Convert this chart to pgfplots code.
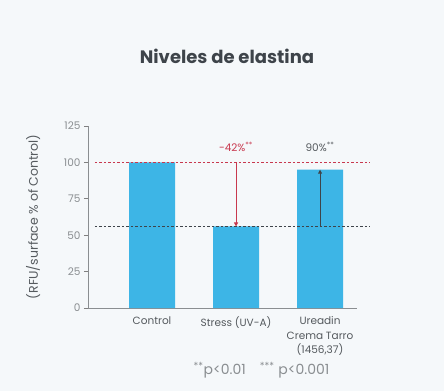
\documentclass[border=0pt]{standalone}
\usepackage{pgfplots}
\pgfplotsset{compat=1.18}
\usepackage{fontspec}
\setmainfont{Poppins}
\usetikzlibrary{arrows.meta}
\definecolor{bg}{HTML}{F5F8FA}
\definecolor{barblue}{HTML}{3DB5E6}
\definecolor{redl}{HTML}{C8384E}
\definecolor{darkl}{HTML}{3E444A}
\definecolor{txt}{HTML}{555A5E}
\definecolor{tick}{HTML}{8A8E91}
\begin{document}
\begin{tikzpicture}[x=1pt,y=1pt]
\fill[bg] (0,0) rectangle (444,391);
\useasboundingbox (0,0) rectangle (444,391);
\node[font=\fontsize{18}{21}\selectfont\bfseries, text=darkl] at (227,335) {Niveles de elastina};
\node[font=\fontsize{14}{17}\selectfont, text=tick, anchor=west] at (190,21) {\textsuperscript{**}p<0.01\quad\textsuperscript{***} p<0.001};
\begin{axis}[
  at={(88pt,83pt)}, anchor=south west,
  scale only axis, width=269pt, height=182pt,
  xmin=-0.762, xmax=2.44, ymin=0, ymax=125,
  axis x line*=bottom, axis y line*=left,
  axis line style={tick, line width=0.8pt, -},
  xtick={0,1,2},
  xticklabels={Control, Stress (UV-A), {Ureadin\\Crema Tarro\\(1456,37)}},
  xticklabel style={align=center, text=txt, font=\fontsize{10.5}{14.5}\selectfont, anchor=north},
  x tick label style={yshift=-1pt},
  major x tick style={draw=none},
  ytick={0,25,50,75,100,125},
  yticklabel style={text=tick, font=\fontsize{10.5}{12}\selectfont},
  /pgf/number format/assume math mode=true,
  tick style={tick, line width=0.8pt},
  tick align=outside, major tick length=4pt,
  ylabel={(RFU/surface \% of Control)},
  ylabel style={text=txt, font=\fontsize{12.5}{14}\selectfont, at={(axis description cs:-0.165,0.5)}},
  clip=false,
]
\addplot[ybar, bar width=46pt, fill=barblue, draw=none] coordinates {(0,100) (1,56) (2,95)};
\addplot[redl, dash pattern=on 2.5pt off 2pt, line width=1pt] coordinates {(-0.68,100) (2.6,100)};
\addplot[darkl, dash pattern=on 2.5pt off 2pt, line width=1pt] coordinates {(-0.68,56) (2.6,56)};
\addplot[redl, line width=1pt, -{Triangle[length=4pt,width=4pt]}] coordinates {(1,100) (1,56)};
\addplot[darkl, line width=0.9pt, -{Triangle[length=4pt,width=4pt]}] coordinates {(2,56) (2,95)};
\node[text=redl, font=\fontsize{10.5}{12}\selectfont] at (axis cs:1,111) {-42\%\textsuperscript{**}};
\node[text=txt, font=\fontsize{10.5}{12}\selectfont] at (axis cs:2,111) {90\%\textsuperscript{**}};
\end{axis}
\end{tikzpicture}
\end{document}
